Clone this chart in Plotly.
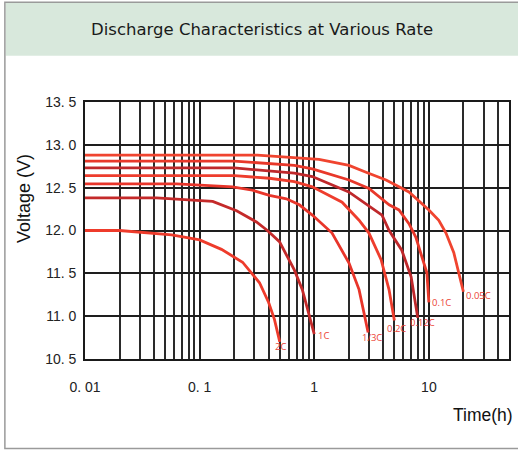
import numpy as np
import plotly.graph_objects as go

# ---- data ----
rate_labels = ["2C", "1C", "1/3C", "0.2C", "0.12C", "0.1C", "0.05C"]

t_2c = [0.01, 0.02, 0.057, 0.1, 0.155, 0.237, 0.333, 0.40, 0.45, 0.50]
v_2c = [12.00, 12.00, 11.95, 11.89, 11.78, 11.63, 11.39, 11.16, 10.96, 10.70]

t_1c = [0.01, 0.042, 0.13, 0.21, 0.313, 0.39, 0.497, 0.67, 0.787, 0.905, 1.0]
v_1c = [12.38, 12.38, 12.34, 12.23, 12.10, 12.00, 11.87, 11.54, 11.31, 11.00, 10.79]

t_3c = [0.01, 0.063, 0.194, 0.289, 0.406, 0.571, 0.741, 0.962, 1.43, 2.01, 2.46, 2.95]
v_3c = [12.545, 12.545, 12.51, 12.47, 12.41, 12.37, 12.30, 12.18, 11.97, 11.62, 11.31, 10.81]

t_02c = [0.01, 0.201, 0.406, 0.67, 0.962, 1.75, 2.46, 3.0, 3.83, 4.49, 5.0]
v_02c = [12.64, 12.64, 12.61, 12.57, 12.51, 12.33, 12.12, 11.97, 11.66, 11.31, 10.95]

t_012c = [0.01, 0.201, 0.67, 0.962, 2.0, 3.9, 4.5, 5.8, 7.0, 7.7, 8.0]
v_012c = [12.73, 12.73, 12.67, 12.63, 12.45, 12.18, 12.00, 11.77, 11.46, 11.13, 10.98]

t_01c = [0.01, 0.201, 0.67, 0.962, 2.01, 3.0, 4.5, 5.48, 6.7, 7.7, 8.7, 9.6, 10.0]
v_01c = [12.81, 12.81, 12.76, 12.72, 12.59, 12.49, 12.30, 12.24, 12.08, 11.92, 11.69, 11.51, 11.16]

t_005c = [0.01, 0.319, 1.1, 2.01, 2.83, 4.23, 6.7, 8.18, 10.0, 12.2, 14.1, 16.5, 20.0]
v_005c = [12.88, 12.88, 12.83, 12.76, 12.68, 12.59, 12.45, 12.35, 12.24, 12.12, 11.97, 11.74, 11.285]

x_tick_vals = [0.01, 0.1, 1, 10]
x_tick_text = ["0. 01", "0. 1", "1", "10"]
y_tick_vals = [10.5, 11.0, 11.5, 12.0, 12.5, 13.0, 13.5]
y_tick_text = ["10. 5", "11. 0", "11. 5", "12. 0", "12. 5", "13. 0", "13. 5"]

title_text = "Discharge Characteristics at Various Rate"

# ---- styling ----
series = [
    (t_2c, v_2c, "#ee3b2b", (1, -4.5, "center")),
    (t_1c, v_1c, "#c42a2a", (2, -1.5, "left")),
    (t_3c, v_3c, "#e8352a", (3.5, -5.5, "center")),
    (t_02c, v_02c, "#ee3d2d", (2.5, -8.5, "center")),
    (t_012c, v_012c, "#bf282b", (4.5, -5, "center")),
    (t_01c, v_01c, "#e8382a", (1, -0.5, "left")),
    (t_005c, v_005c, "#f0442f", (1, -3.5, "left")),
]

fig = go.Figure()
annotations = []
for (t, v, col, (xs, ys, xa)), lab in zip(series, rate_labels):
    fig.add_trace(go.Scatter(x=t, y=v, mode="lines",
                             line=dict(color=col, width=2.8),
                             showlegend=False, hoverinfo="skip"))
    annotations.append(dict(x=np.log10(t[-1]), y=v[-1], xref="x", yref="y",
                            text=lab, showarrow=False, xanchor=xa, yanchor="middle",
                            xshift=xs, yshift=ys,
                            font=dict(family="Open Sans", size=9.5, color="#ec4336")))

# pixel -> paper helpers
L, R, T, B = 85, 511, 101.5, 359.3
def px(xp):
    return (xp - L) / (R - L)
def py(yp):
    return (B - yp) / (B - T)

shapes = [
    dict(type="rect", xref="paper", yref="paper", x0=px(5.3), x1=px(530),
         y0=py(55), y1=py(2.3), line=dict(width=0), fillcolor="#d8e8dc", layer="below"),
    dict(type="rect", xref="paper", yref="paper", x0=px(4.5), x1=px(530),
         y0=py(449), y1=py(1.5), line=dict(color="#9a9a9a", width=1.5),
         fillcolor="rgba(0,0,0,0)", layer="below"),
]

annotations.append(dict(x=px(263), y=py(29), xref="paper", yref="paper", text=title_text,
                        showarrow=False, xanchor="center", yanchor="middle",
                        font=dict(family="DejaVu Sans", size=16.5, color="#1a1a1a")))
annotations.append(dict(x=px(23.5), y=py(198), xref="paper", yref="paper", text="Voltage (V)",
                        showarrow=False, textangle=-90, xanchor="center", yanchor="middle",
                        font=dict(family="Liberation Sans", size=18, color="#111")))
annotations.append(dict(x=px(517), y=py(415), xref="paper", yref="paper", text="Time(h)",
                        showarrow=False, xanchor="right", yanchor="middle",
                        font=dict(family="Liberation Sans", size=17.5, color="#111")))

minor_x = [m * 10.0 ** e for e in (-2, -1, 0) for m in range(2, 10)] + [20, 30, 40]

fig.update_layout(
    width=518, height=451,
    margin=dict(l=L, r=518 - R, t=T, b=451 - B, pad=0),
    paper_bgcolor="white", plot_bgcolor="white",
    shapes=shapes, annotations=annotations,
    xaxis=dict(type="log", range=[-2, np.log10(50)], tickvals=x_tick_vals, ticktext=x_tick_text,
               showgrid=True, gridcolor="#1e1e1e", gridwidth=1.8,
               minor=dict(tickvals=minor_x, showgrid=True, gridcolor="#2a2a2a", gridwidth=1.8, ticks=""),
               showline=True, linecolor="#1a1a1a", linewidth=1.8, mirror=True,
               ticks="", ticklabelstandoff=14, zeroline=False,
               tickfont=dict(family="Liberation Sans", size=14, color="#222")),
    yaxis=dict(range=[10.5, 13.5], tickvals=y_tick_vals, ticktext=y_tick_text,
               showgrid=True, gridcolor="#1e1e1e", gridwidth=1.8,
               showline=True, linecolor="#1a1a1a", linewidth=1.8, mirror=True,
               ticks="", ticklabelstandoff=4, zeroline=False,
               tickfont=dict(family="Liberation Sans", size=14, color="#222")),
)

fig.write_html("out.html", config={"displayModeBar": False},
               post_script="document.body.style.margin='0';document.body.style.overflow='hidden';")
